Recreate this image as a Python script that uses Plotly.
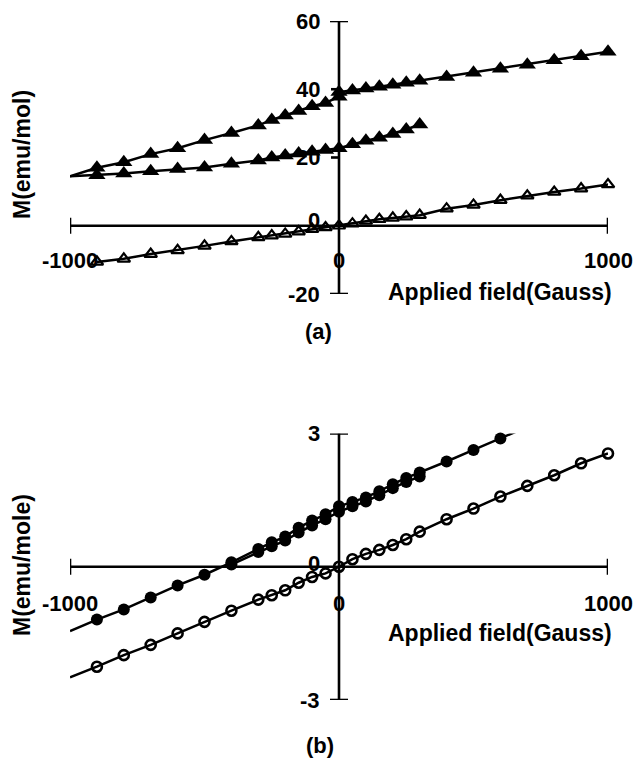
import numpy as np
import plotly.graph_objects as go

# ---------------- data ----------------
# panel (a): M (emu/mol) vs applied field (Gauss)
a_field_upper = [-900, -800, -700, -600, -500, -400, -300, -250, -200, -150, -100, -50, 0,
                 0, 50, 100, 150, 200, 250, 300, 400, 500, 600, 700, 800, 900, 1000]
a_M_upper = [17.0, 18.6, 21.0, 22.7, 25.1, 27.2, 29.4, 31.0, 32.3, 33.6, 35.0, 36.0, 37.8,
             39.2, 39.6, 40.2, 40.7, 41.3, 41.9, 42.5, 43.6, 44.8, 46.0, 47.2, 48.5, 49.7, 51.0]

a_field_lower = [-900, -800, -700, -600, -500, -400, -300, -250, -200, -150, -100, -50, 0,
                 50, 100, 150, 200, 250, 300]
a_M_lower = [14.8, 15.3, 16.0, 16.6, 17.1, 18.2, 19.1, 20.0, 20.6, 21.2, 21.7, 22.2, 22.7,
             23.9, 24.9, 25.8, 26.9, 28.2, 29.7]

a_field_open = [-900, -800, -700, -600, -500, -400, -300, -250, -200, -150, -100, -50, 0,
                50, 100, 150, 200, 250, 300, 400, 500, 600, 700, 800, 900, 1000]
a_M_open = [-10.6, -9.7, -8.3, -7.2, -5.9, -4.6, -3.4, -2.9, -2.4, -1.7, -1.0, -0.5, 0.0,
            0.6, 1.4, 1.9, 2.3, 2.7, 3.1, 5.0, 6.1, 7.5, 8.8, 9.9, 10.9, 12.1]

# common start of the two filled-triangle lines
a_line_start_field = -1000
a_line_start_M = 14.5

# panel (b): M (emu/mole) vs applied field (Gauss)
b_field_filled1 = [-900, -800, -700, -600, -500, -400, -300, -250, -200, -150, -100, -50, 0,
                   50, 100, 150, 200, 250, 300, 400, 500, 600]
b_M_filled1 = [-1.19, -0.96, -0.69, -0.42, -0.18, 0.10, 0.40, 0.55, 0.68, 0.88, 1.04, 1.18, 1.36,
               1.46, 1.56, 1.70, 1.86, 2.00, 2.12, 2.37, 2.63, 2.89]

b_field_filled2 = [-400, -300, -250, -200, -150, -100, -50, 0, 50, 100, 150, 200, 250, 300]
b_M_filled2 = [0.05, 0.33, 0.46, 0.59, 0.77, 0.93, 1.07, 1.24, 1.36, 1.47, 1.61, 1.77, 1.91, 2.03]

b_field_open = [-900, -800, -700, -600, -500, -400, -300, -250, -200, -150, -100, -50, 0,
                50, 100, 150, 200, 250, 300, 400, 500, 600, 700, 800, 900, 1000]
b_M_open = [-2.25, -1.99, -1.76, -1.50, -1.24, -0.99, -0.74, -0.64, -0.53, -0.36, -0.23, -0.15, 0.0,
            0.17, 0.29, 0.38, 0.49, 0.62, 0.79, 1.07, 1.31, 1.58, 1.82, 2.06, 2.33, 2.55]

# extent of the drawn lines in panel (b)
b_filled_line_span = (-1000, 690)
b_open_line_span = (-1000, 1000)

x_ticks = [-1000, 0, 1000]
a_y_ticks = [60, 40, 20, 0, -20]
b_y_ticks = [3, 0, -3]

# ---------------- helpers ----------------
def extend(xs, ys, lo, hi):
    """Add linearly extrapolated end points (fit of the 3 nearest points)."""
    xs = list(xs); ys = list(ys)
    p_lo = np.polyfit(xs[:3], ys[:3], 1)
    p_hi = np.polyfit(xs[-3:], ys[-3:], 1)
    ox = [lo] + xs + ([hi] if hi > xs[-1] else [])
    oy = [float(np.polyval(p_lo, lo))] + ys + ([float(np.polyval(p_hi, hi))] if hi > xs[-1] else [])
    return ox, oy

BLACK = "black"
FONT = dict(family="Liberation Sans, Arial, sans-serif", size=22, color=BLACK, weight="bold")
LW = 2.5

fig = go.Figure()

def line(x, y, xa, ya):
    fig.add_trace(go.Scatter(x=x, y=y, mode="lines", line=dict(color=BLACK, width=LW),
                             xaxis=xa, yaxis=ya, cliponaxis=False, showlegend=False,
                             hoverinfo="skip"))

def markers(x, y, symbol, size, xa, ya, lw=0):
    fig.add_trace(go.Scatter(x=x, y=y, mode="markers",
                             marker=dict(symbol=symbol, size=size, color=BLACK,
                                         line=dict(color=BLACK, width=lw)),
                             xaxis=xa, yaxis=ya, cliponaxis=False, showlegend=False))

# ---- panel (a)
line([a_line_start_field] + a_field_upper, [a_line_start_M] + a_M_upper, "x", "y")
line([a_line_start_field] + a_field_lower, [a_line_start_M] + a_M_lower, "x", "y")
line(a_field_open, a_M_open, "x", "y")
markers(a_field_upper, a_M_upper, "triangle-up", 15, "x", "y")
markers(a_field_lower, a_M_lower, "triangle-up", 15, "x", "y")
markers(a_field_open, a_M_open, "triangle-up-open", 11, "x", "y", lw=2.2)

# ---- panel (b)
fx, fy = extend(b_field_filled1, b_M_filled1, *b_filled_line_span)
line(fx, fy, "x2", "y2")
line(b_field_filled2, b_M_filled2, "x2", "y2")
ox, oy = extend(b_field_open, b_M_open, *b_open_line_span)
line(ox, oy, "x2", "y2")
markers(b_field_filled1, b_M_filled1, "circle", 12, "x2", "y2")
markers(b_field_filled2, b_M_filled2, "circle", 12, "x2", "y2")
markers(b_field_open, b_M_open, "circle-open", 10, "x2", "y2", lw=2.6)

# ---------------- layout ----------------
W, H = 637, 758
x_dom = [70 / W, 608 / W]
a_ydom = [(H - 294) / H, (H - 21) / H]
b_ydom = [(H - 700) / H, (H - 433.5) / H]

hidden = dict(visible=False, showgrid=False, zeroline=False, fixedrange=True)
fig.update_layout(
    width=W, height=H, margin=dict(l=0, r=0, t=0, b=0),
    paper_bgcolor="white", plot_bgcolor="white",
    xaxis=dict(domain=x_dom, range=[-1000, 1000], anchor="y", **hidden),
    yaxis=dict(domain=a_ydom, range=[-20, 60], anchor="x", **hidden),
    xaxis2=dict(domain=x_dom, range=[-1000, 1000], anchor="y2", **hidden),
    yaxis2=dict(domain=b_ydom, range=[-3, 3], anchor="x2", **hidden),
)

shapes = []
ann = []
AX = dict(color=BLACK, width=2.6)

def axes(xr, yr, ymin, ymax, minor_ticks):
    shapes.append(dict(type="line", xref=xr, yref=yr, x0=-1000, x1=1000, y0=0, y1=0, line=AX, layer="below"))
    shapes.append(dict(type="line", xref=xr, yref=yr, x0=0, x1=0, y0=ymin, y1=ymax, line=AX, layer="below"))
    for xv in (-1000, 1000):
        shapes.append(dict(type="line", xref=xr, yref=yr, x0=xv, x1=xv, ysizemode="pixel",
                           yanchor=0, y0=-8, y1=8, line=AX, layer="below"))
    for yv in (ymin, ymax):
        shapes.append(dict(type="line", xref=xr, yref=yr, y0=yv, y1=yv, xsizemode="pixel",
                           xanchor=0, x0=-9, x1=9, line=AX, layer="below"))
    for yv in minor_ticks:
        shapes.append(dict(type="line", xref=xr, yref=yr, y0=yv, y1=yv, xsizemode="pixel",
                           xanchor=0, x0=-8, x1=0, line=AX, layer="below"))

axes("x", "y", -20, 60, [40, 20])
axes("x2", "y2", -3, 3, [])

def label(text, x, y, xr, yr, **kw):
    d = dict(text=text, x=x, y=y, xref=xr, yref=yr, showarrow=False, font=FONT)
    d.update(kw)
    ann.append(d)

# panel (a) tick labels
for t in a_y_ticks:
    label(str(t), 0, t, "x", "y", xanchor="right", yanchor="middle", xshift=-17,
          yshift=5 if t == 0 else 0)
for t in x_ticks:
    label(str(t), t, 0, "x", "y", xanchor="center", yanchor="middle", yshift=-35)
label("Applied field(Gauss)", 1000, 0, "x", "y", xanchor="right", yanchor="middle",
      xshift=6, yshift=-66, font=dict(FONT, size=23))

# panel (b) tick labels
for t in b_y_ticks:
    label(str(t), 0, t, "x2", "y2", xanchor="right", yanchor="middle", xshift=-17,
          yshift=3 if t == 0 else 0)
for t in x_ticks:
    label(str(t), t, 0, "x2", "y2", xanchor="center", yanchor="middle", yshift=-37)
label("Applied field(Gauss)", 1000, 0, "x2", "y2", xanchor="right", yanchor="middle",
      xshift=6, yshift=-66, font=dict(FONT, size=23))

# axis titles and panel letters
label("M(emu/mol)", 22 / W, (H - 155) / H, "paper", "paper", textangle=-90,
      xanchor="center", yanchor="middle", font=dict(FONT, size=23))
label("M(emu/mole)", 22 / W, (H - 565) / H, "paper", "paper", textangle=-90,
      xanchor="center", yanchor="middle", font=dict(FONT, size=23))
label("(a)", 318 / W, (H - 332) / H, "paper", "paper", xanchor="center", yanchor="middle")
label("(b)", 320 / W, (H - 745) / H, "paper", "paper", xanchor="center", yanchor="middle")

fig.update_layout(shapes=shapes, annotations=ann)
fig.write_html("out.html")
